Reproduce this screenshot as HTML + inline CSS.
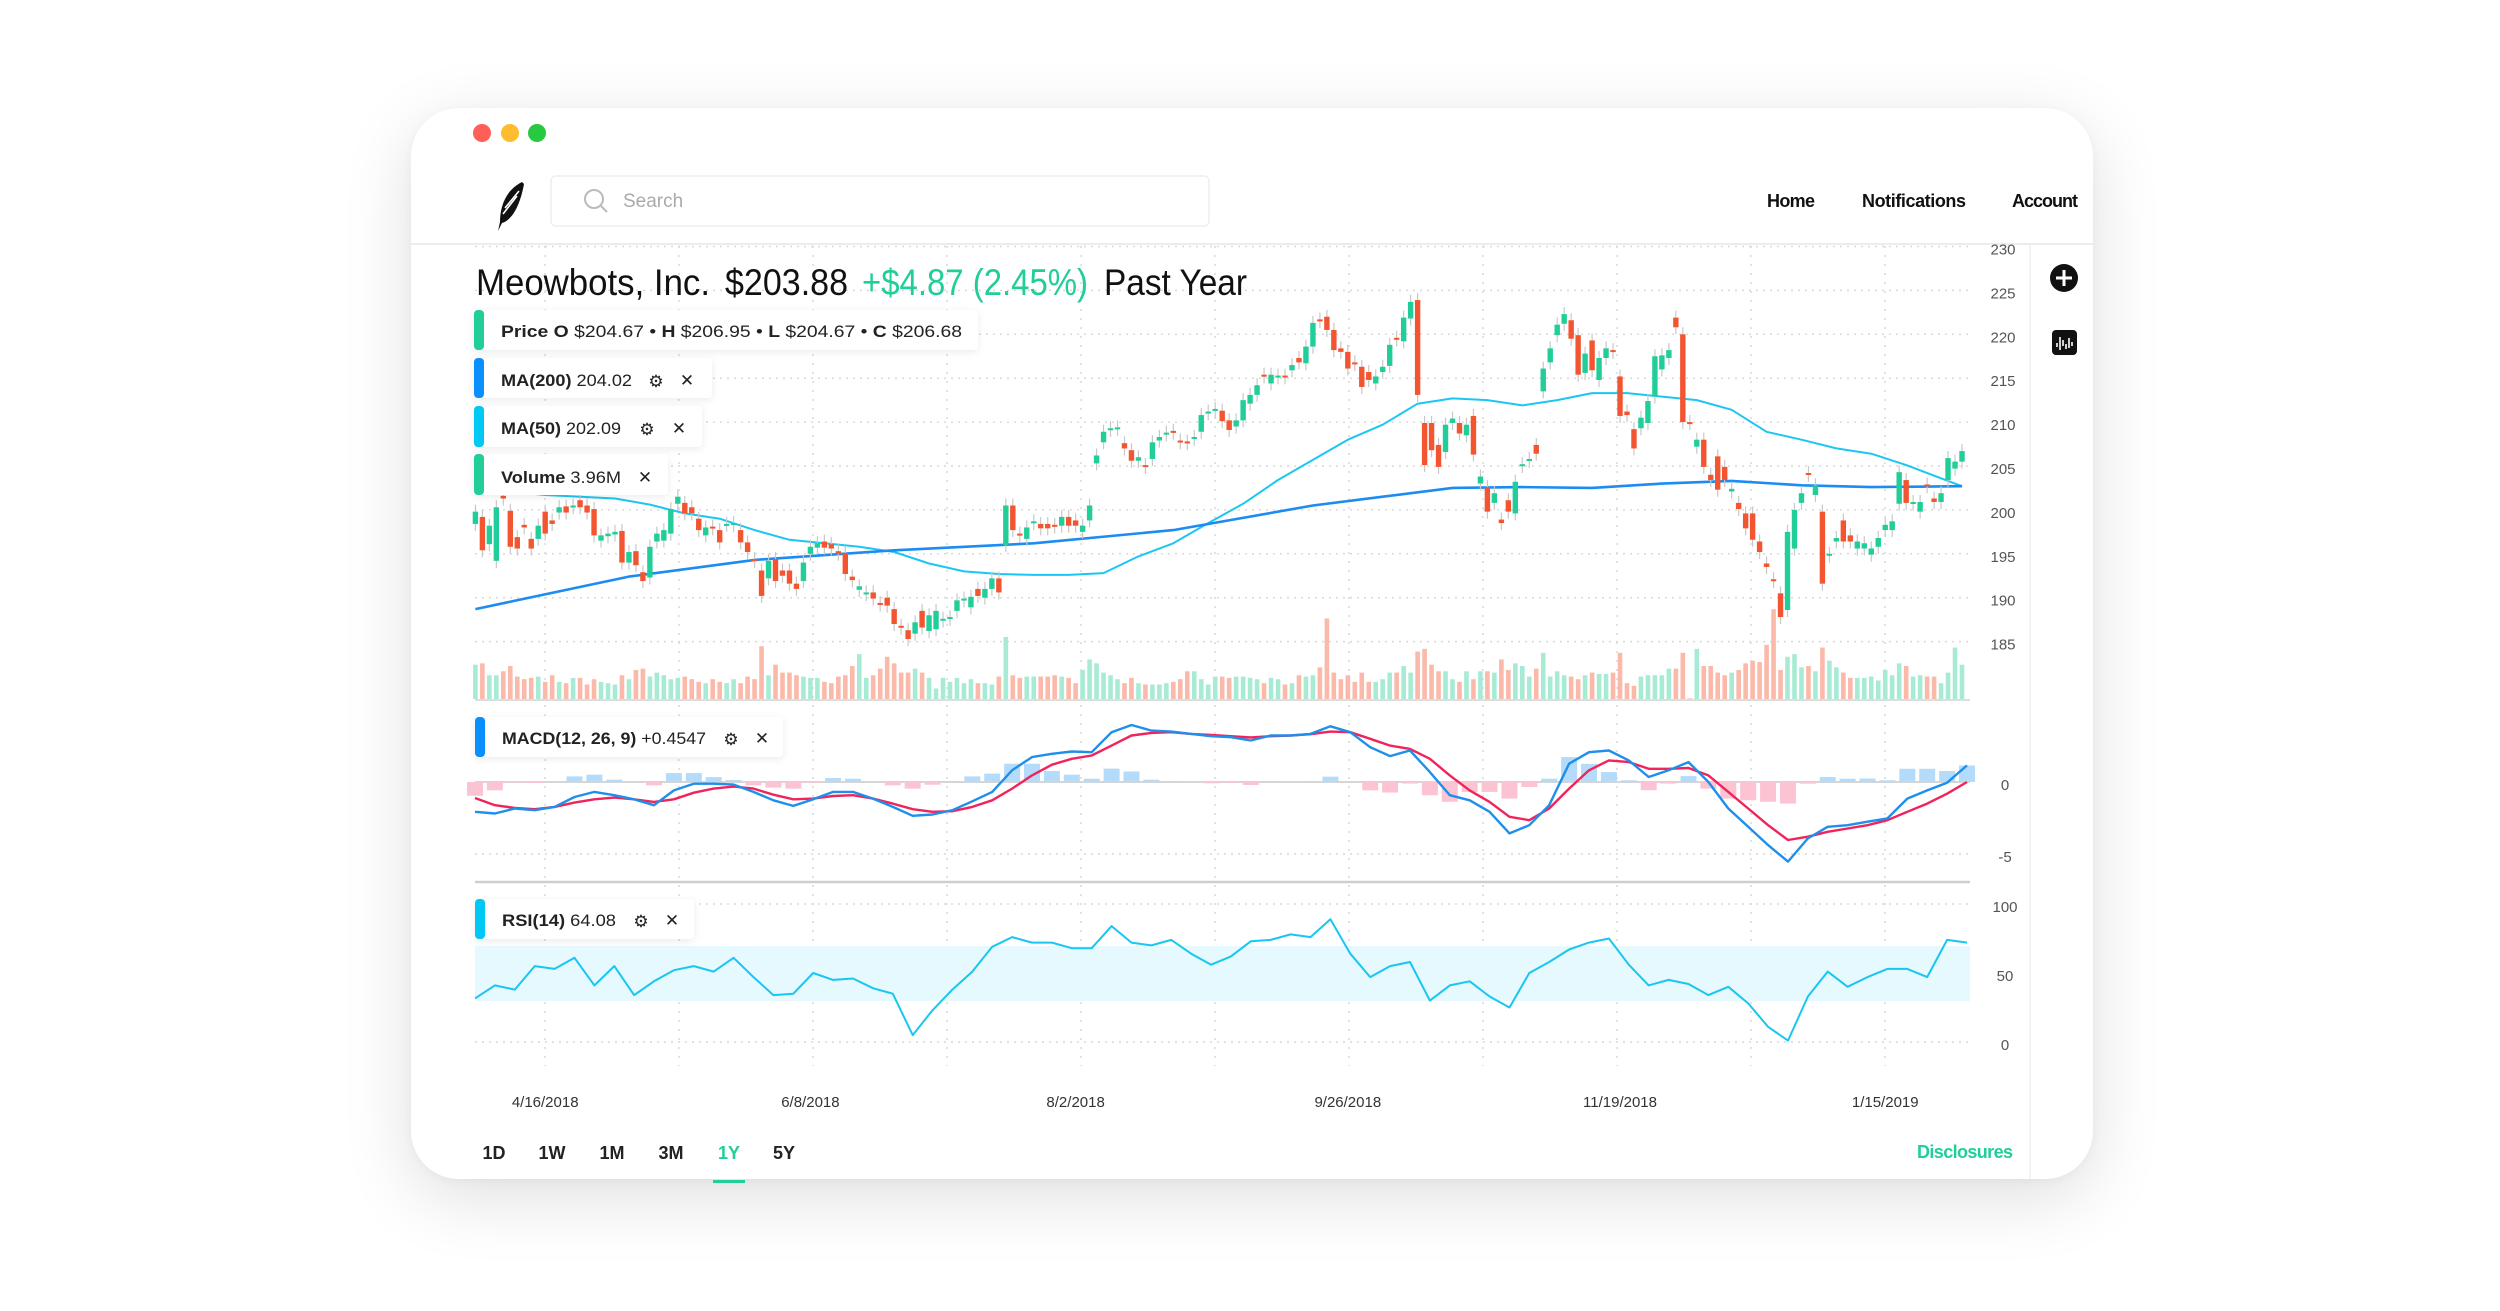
<!DOCTYPE html>
<html><head><meta charset="utf-8"><style>
html,body{margin:0;padding:0;background:#fff;width:2500px;height:1311px;overflow:hidden;font-family:"Liberation Sans",sans-serif}
#win{position:absolute;left:411px;top:108px;width:1682px;height:1071px;border-radius:48px;background:#fff;box-shadow:0 18px 70px rgba(0,0,0,0.13),0 2px 10px rgba(0,0,0,0.04)}
svg{position:absolute;left:0;top:0}
</style></head><body>
<div id="win"></div>
<svg id="s" width="2500" height="1311" viewBox="0 0 2500 1311" xmlns="http://www.w3.org/2000/svg" font-family="Liberation Sans, sans-serif">
<defs>
<filter id="sh" x="-10%" y="-30%" width="120%" height="160%"><feDropShadow dx="0" dy="2" stdDeviation="4" flood-color="#000" flood-opacity="0.08"/></filter>
</defs>
<g>
<circle cx="482" cy="133" r="9" fill="#FF5F57"/>
<circle cx="510" cy="133" r="9" fill="#FEBC2E"/>
<circle cx="537" cy="133" r="9" fill="#28C840"/>
</g>
<g>
<path d="M522 182 C506 190 500 206 500 222 L498 231 L502 223 C512 220 520 206 524 184 Z" fill="#111"/>
<path d="M503 214 L517 196 M505 208 L519 191" stroke="#fff" stroke-width="1.6"/>
</g>
<rect x="551" y="176" width="658" height="50" rx="5" fill="#fff" stroke="#eee" stroke-width="1.5"/>
<g><circle cx="594" cy="199" r="9" fill="none" stroke="#bbb" stroke-width="2"/><line x1="601" y1="206" x2="607" y2="212" stroke="#bbb" stroke-width="2"/></g>
<text x="623" y="207" font-size="19" fill="#aaa">Search</text>
<text x="1791" y="207" font-size="18" font-weight="bold" fill="#111" text-anchor="middle" textLength="48">Home</text>
<text x="1914" y="207" font-size="18" font-weight="bold" fill="#111" text-anchor="middle" textLength="104">Notifications</text>
<text x="2045" y="207" font-size="18" font-weight="bold" fill="#111" text-anchor="middle" textLength="66">Account</text>
<line x1="411" y1="244" x2="2093" y2="244" stroke="#ececec" stroke-width="2"/>
<line x1="2030" y1="245" x2="2030" y2="1179" stroke="#f0f0f0" stroke-width="1.5"/>
<g id="grid"></g>
<rect x="475" y="946" width="1495" height="55" fill="#E5F9FE"/>
<g id="marks"></g>
<g>
<text x="476" y="295" font-size="37" fill="#111" textLength="234" lengthAdjust="spacingAndGlyphs">Meowbots, Inc.</text>
<text x="725" y="295" font-size="37" fill="#111" textLength="123" lengthAdjust="spacingAndGlyphs">$203.88</text>
<text x="862" y="295" font-size="37" fill="#21CE99" textLength="226" lengthAdjust="spacingAndGlyphs">+$4.87 (2.45%)</text>
<text x="1104" y="295" font-size="37" fill="#111" textLength="143" lengthAdjust="spacingAndGlyphs">Past Year</text>
</g>
<g>
<rect x="474" y="310" width="504" height="40" rx="4" fill="#fff" filter="url(#sh)"/><rect x="474" y="310" width="10" height="40" rx="4" fill="#21CE99"/>
<text x="501" y="337" font-size="17" fill="#222" textLength="461" lengthAdjust="spacingAndGlyphs"><tspan font-weight="bold">Price</tspan>  <tspan font-weight="bold">O</tspan> $204.67  •  <tspan font-weight="bold">H</tspan> $206.95  •  <tspan font-weight="bold">L</tspan> $204.67  •  <tspan font-weight="bold">C</tspan> $206.68</text>
</g>
<g>
<rect x="474" y="358" width="238" height="40" rx="4" fill="#fff" filter="url(#sh)"/><rect x="474" y="358" width="10" height="40" rx="4" fill="#0A8FFF"/>
<text x="501" y="386" font-size="17" fill="#222" textLength="131" lengthAdjust="spacingAndGlyphs"><tspan font-weight="bold">MA(200)</tspan> 204.02</text>
<text x="656" y="387" font-size="17" fill="#222" text-anchor="middle">⚙</text>
<text x="687" y="386" font-size="17" fill="#222" text-anchor="middle">✕</text>
</g>
<g>
<rect x="474" y="406" width="228" height="41" rx="4" fill="#fff" filter="url(#sh)"/><rect x="474" y="406" width="10" height="41" rx="4" fill="#00C8F5"/>
<text x="501" y="434" font-size="17" fill="#222" textLength="120" lengthAdjust="spacingAndGlyphs"><tspan font-weight="bold">MA(50)</tspan> 202.09</text>
<text x="647" y="435" font-size="17" fill="#222" text-anchor="middle">⚙</text>
<text x="679" y="434" font-size="17" fill="#222" text-anchor="middle">✕</text>
</g>
<g>
<rect x="474" y="454" width="194" height="41" rx="4" fill="#fff" filter="url(#sh)"/><rect x="474" y="454" width="10" height="41" rx="4" fill="#21CE99"/>
<text x="501" y="483" font-size="17" fill="#222" textLength="120" lengthAdjust="spacingAndGlyphs"><tspan font-weight="bold">Volume</tspan> 3.96M</text>
<text x="645" y="483" font-size="17" fill="#222" text-anchor="middle">✕</text>
</g>
<g>
<rect x="475" y="717" width="308" height="40" rx="4" fill="#fff" filter="url(#sh)"/><rect x="475" y="717" width="10" height="40" rx="4" fill="#0A8FFF"/>
<text x="502" y="744" font-size="17" fill="#222" textLength="204" lengthAdjust="spacingAndGlyphs"><tspan font-weight="bold">MACD(12, 26, 9)</tspan> +0.4547</text>
<text x="731" y="745" font-size="17" fill="#222" text-anchor="middle">⚙</text>
<text x="762" y="744" font-size="17" fill="#222" text-anchor="middle">✕</text>
</g>
<g>
<rect x="475" y="899" width="219" height="40" rx="4" fill="#fff" filter="url(#sh)"/><rect x="475" y="899" width="10" height="40" rx="4" fill="#00C8F5"/>
<text x="502" y="926" font-size="17" fill="#222" textLength="114" lengthAdjust="spacingAndGlyphs"><tspan font-weight="bold">RSI(14)</tspan> 64.08</text>
<text x="641" y="927" font-size="17" fill="#222" text-anchor="middle">⚙</text>
<text x="672" y="926" font-size="17" fill="#222" text-anchor="middle">✕</text>
</g>
<g><circle cx="2064" cy="278" r="14" fill="#111"/><path d="M2064 270 V286 M2056 278 H2072" stroke="#fff" stroke-width="3"/></g>
<g><rect x="2052" y="330" width="25" height="25" rx="4" fill="#111"/><path d="M2057 343 V347 M2060 337 V350 M2063 340 V346 M2066 344 V349 M2069 338 V348 M2072 342 V346" stroke="#fff" stroke-width="1.6"/></g>
<g id="xlabels"></g>
<g font-size="18" font-weight="bold" fill="#222" text-anchor="middle">
<text x="494" y="1159">1D</text>
<text x="552" y="1159">1W</text>
<text x="612" y="1159">1M</text>
<text x="671" y="1159">3M</text>
<text x="729" y="1159" fill="#21CE99">1Y</text>
<text x="784" y="1159">5Y</text>
<rect x="713" y="1180" width="32" height="3" fill="#21CE99"/>
</g>
<text x="2013" y="1158" font-size="18" font-weight="bold" fill="#21CE99" text-anchor="end" textLength="96">Disclosures</text>
</svg>
<script>
// ---- data ----
const opens = [
198.4,199.2,196.1,194.2,201.6,199.9,196.9,198.3,196.7,196.7,
199.8,198.8,199.7,200.4,200.3,201.1,200.5,200.1,196.5,197.0,
197.2,197.6,194.0,195.3,192.9,192.3,196.4,196.5,197.3,200.7,
200.8,200.3,199.0,197.1,198.1,197.7,198.3,198.3,197.7,196.3,
194.4,193.1,192.2,194.4,193.1,193.1,191.6,191.9,195.0,195.7,
196.4,196.1,195.3,195.1,192.4,190.9,190.4,190.6,189.4,190.0,
188.7,186.8,186.3,185.9,188.5,186.2,186.4,187.4,187.6,188.5,
189.7,188.9,191.0,190.0,191.0,192.2,196.0,200.5,197.3,196.7,
198.5,198.4,198.4,198.3,198.2,199.2,198.8,197.5,198.8,205.3,
207.7,209.1,209.2,207.6,206.8,205.6,205.1,205.8,207.9,208.6,
209.0,207.9,207.8,208.1,208.9,211.0,211.3,211.3,210.2,209.5,
210.2,212.1,213.1,215.4,214.4,215.1,215.3,215.9,217.3,216.7,
218.6,221.7,222.0,220.5,218.4,218.0,216.8,216.3,215.7,214.4,
215.7,216.4,219.6,219.2,221.8,223.9,209.9,209.9,207.4,206.6,
209.9,209.9,208.5,210.7,203.0,202.6,200.8,198.9,201.1,199.6,
205.0,205.6,207.4,213.5,216.8,219.9,221.2,221.6,219.9,215.6,
219.3,214.8,217.3,218.2,215.2,211.2,209.2,209.3,209.9,212.9,
216.0,217.3,221.9,220.0,210.0,207.2,208.0,204.0,206.1,204.9,
202.1,200.8,199.6,199.6,196.4,193.9,192.1,190.5,188.6,195.6,
200.8,204.2,201.7,199.8,194.8,196.4,198.8,197.1,195.6,195.6,
194.9,195.8,197.7,197.7,200.7,203.4,200.7,199.8,202.9,201.3,
200.9,203.4,204.7,205.5];
const closes = [
199.8,195.4,198.2,200.3,201.3,195.8,195.6,198.0,195.6,198.2,
197.3,198.4,200.3,199.7,200.5,200.3,199.7,197.1,197.1,197.3,
197.5,194.0,195.2,193.7,191.9,195.8,197.3,197.7,200.1,201.5,
199.6,199.6,197.7,198.0,197.9,196.3,198.4,198.5,196.3,195.2,
194.2,190.2,194.2,191.9,192.5,191.6,191.0,194.0,195.8,196.2,
195.7,195.6,195.0,192.7,192.0,191.3,190.6,189.9,189.2,189.1,
187.0,186.6,185.3,187.2,186.6,188.0,188.5,187.6,187.8,189.7,
189.9,190.1,190.2,191.0,192.2,190.6,200.5,197.7,197.1,198.0,
198.7,197.9,197.9,198.1,199.2,198.2,198.2,198.2,200.5,206.2,
208.9,209.3,209.4,207.0,205.6,206.0,204.9,207.7,208.3,208.8,
208.8,207.7,207.6,208.3,210.8,211.2,211.5,210.1,209.1,210.2,
212.5,213.1,214.2,215.2,215.4,215.3,215.1,216.5,216.8,218.6,
221.3,221.5,220.5,218.2,218.0,216.1,216.6,214.0,214.8,215.2,
216.3,218.8,219.4,221.9,223.7,213.1,205.1,206.8,204.9,209.7,
210.4,208.7,209.7,206.3,203.8,199.8,201.9,198.5,199.8,203.2,
205.2,205.8,206.4,216.1,218.4,221.1,222.3,219.5,215.4,217.8,
215.9,217.3,218.4,218.0,210.7,210.8,207.0,210.5,212.4,217.5,
217.6,218.2,220.8,210.0,209.9,208.0,204.9,203.4,202.3,203.4,
202.4,200.1,197.9,196.6,195.2,193.5,191.9,187.8,197.5,200.0,
201.9,204.0,202.8,191.6,195.0,196.8,196.4,196.4,196.4,196.2,
195.6,196.8,198.3,198.7,204.3,200.8,200.9,200.9,202.7,200.9,
201.9,205.9,205.5,206.7];
const volumes = [
2.6,2.7,1.8,1.8,2.1,2.5,1.7,1.5,1.6,1.7,
1.3,1.8,1.3,1.2,1.6,1.6,1.1,1.5,1.3,1.2,
1.1,1.8,1.5,2.2,2.3,1.7,2.0,1.8,1.5,1.6,
1.7,1.5,1.3,1.2,1.5,1.3,1.2,1.5,1.2,1.7,
1.5,4.0,1.8,2.6,2.0,2.0,1.8,1.7,1.6,1.6,
1.3,1.2,1.7,1.8,2.5,3.4,1.6,1.8,2.3,3.2,
2.7,2.0,2.0,2.3,2.0,1.6,0.8,1.6,1.3,1.6,
1.2,1.5,1.2,1.2,1.1,1.7,4.7,1.8,1.6,1.7,
1.7,1.7,1.7,1.8,1.7,1.6,1.2,2.2,3.0,2.7,
2.0,1.8,1.5,1.2,1.6,1.2,1.1,1.1,1.1,1.2,
1.3,1.5,2.1,2.1,1.5,1.1,1.7,1.7,1.6,1.7,
1.7,1.6,1.5,1.2,1.6,1.5,1.1,1.2,1.8,1.7,
1.8,2.4,6.1,2.0,1.5,1.8,1.3,2.0,1.3,1.3,
1.5,2.0,2.0,2.5,2.0,3.6,3.8,2.6,2.1,2.1,
1.5,1.3,2.1,1.5,2.1,2.1,2.0,3.0,2.2,2.7,
2.5,1.7,2.3,3.5,1.7,2.1,1.8,1.7,1.5,1.8,
2.0,1.9,1.9,2.0,3.5,1.2,1.0,1.7,1.8,1.8,
1.8,2.3,2.3,3.5,0.05,3.8,2.5,2.5,2.0,1.8,
2.0,2.2,2.7,2.9,2.8,4.1,6.8,2.2,3.2,3.4,
2.4,2.5,2.1,3.9,2.9,2.4,2.0,1.6,1.6,1.6,
1.7,1.4,2.2,1.8,2.7,2.5,1.7,1.8,1.7,1.7,
1.2,2.0,3.9,2.6];
const ma200Idx = [0,22,40,60,80,100,120,130,140,150,160,170,180,190,200,213];
const ma200Vals = [188.7,192.4,194.3,195.4,196.2,197.7,200.5,201.5,202.5,202.6,202.5,203.0,203.3,202.8,202.6,202.7];
const ma50Idx = [0,5,10,15,20,25,30,35,40,45,50,55,60,65,70,75,80,85,90,95,100,105,110,115,120,125,130,135,140,145,150,155,160,165,170,175,180,185,190,195,200,205,210,213];
const ma50Vals = [202.6,202.1,201.7,201.5,201.3,200.6,199.6,199.0,197.7,196.6,196.2,195.8,195.2,193.9,193.0,192.7,192.6,192.6,192.8,194.7,196.2,198.5,200.7,203.4,205.7,208.0,209.7,212.1,212.7,212.5,211.9,212.5,213.3,213.3,212.9,212.5,211.4,208.9,208.0,207.0,206.4,205.1,203.6,202.7];
const macdVals = [-2.07,-2.19,-1.84,-1.96,-1.73,-1.04,-0.69,-0.92,-1.20,-1.61,-0.58,-0.12,-0.12,-0.18,-0.69,-1.27,-1.66,-1.20,-0.69,-0.69,-1.15,-1.73,-2.35,-2.26,-1.96,-1.34,-0.69,0.81,1.73,1.96,2.12,2.07,3.46,3.96,3.57,3.50,3.34,3.18,3.11,2.88,3.23,3.23,3.34,3.87,3.46,2.42,1.80,2.19,0.69,-0.92,-1.27,-2.07,-3.57,-3.00,-1.61,1.27,2.07,2.19,1.50,0.35,0.81,1.38,0.00,-1.84,-3.11,-4.38,-5.53,-3.92,-3.11,-3.00,-2.76,-2.53,-1.15,-0.58,-0.05,1.15];
const signalVals = [-1.11,-1.61,-1.80,-1.89,-1.73,-1.43,-1.20,-1.08,-1.20,-1.38,-1.20,-0.74,-0.46,-0.32,-0.46,-0.88,-1.20,-1.15,-0.97,-0.92,-1.15,-1.50,-1.89,-2.07,-2.03,-1.73,-1.27,-0.46,0.46,1.20,1.61,1.84,2.53,3.23,3.41,3.46,3.34,3.27,3.18,3.09,3.18,3.23,3.32,3.50,3.46,3.00,2.53,2.30,1.61,0.46,-0.58,-1.38,-2.42,-2.65,-1.84,-0.46,0.81,1.50,1.38,0.92,0.92,0.97,0.46,-0.69,-1.84,-3.00,-4.03,-3.80,-3.46,-3.23,-3.00,-2.65,-2.07,-1.50,-0.81,0.00];
const rsiVals = [31.6,41,38,55,53,61,41,55,34,44,52,55,51,61,47,34,35,50,45,46,39,35,5,23,38,51,69,76,72,72,68,68,84,72,70,74,64,56,62,73,74,78,76,89,64,47,55,58,30,41,44,33,25,50,58,67,72,75,56,41,45,42,34,40,28,11,1,33,51,40,47,53,53,47,74,72];
const priceTicks = [230,225,220,215,210,205,200,195,190,185];
const macdTicks = [0,-5];
const rsiTicks = [100,50,0];
const dateLabels = ['4/16/2018','6/8/2018','8/2/2018','9/26/2018','11/19/2018','1/15/2019'];
const dateBarIdx = [10,48,86,125,164,202];

// ---- axes ----
const X0=475.4, X1=1962, N=closes.length;
const xBar = i => X0 + i*(X1-X0)/(N-1);
const yPrice = v => 246.5 + (230-v)*8.78;
const yVol = v => 699 - v*13.2;
const yMacd = v => 782 - v*14.4;
const yRsi = v => 1042 - v*1.38;
const xInd = (k,n) => 475 + k*(1967-475)/(n-1);
const NS='http://www.w3.org/2000/svg';
const grid=document.getElementById('grid'), marks=document.getElementById('marks'), xl=document.getElementById('xlabels');
function mk(tag, parent, attrs){const e=document.createElementNS(NS,tag);for(const k in attrs)e.setAttribute(k,attrs[k]);parent.appendChild(e);return e;}

// grid
for(let k=0;k<11;k++){const gx=545+134*k;
 const l=mk('line',grid,{x1:gx,y1:246,x2:gx,y2:1066,stroke:'#d9d9d9','stroke-width':1.5,'stroke-dasharray':'2 7'});
 
 }
priceTicks.forEach(t=>{const y=yPrice(t);
 const l=mk('line',grid,{x1:475,y1:y,x2:1970,y2:y,stroke:'#d9d9d9','stroke-width':1.5,'stroke-dasharray':'2 5'});
 
 
 const t2=mk('text',grid,{x:2003,y:y+8,'font-size':15,fill:'#555','text-anchor':'middle'});t2.textContent=t;
 
 });
macdTicks.forEach(t=>{const y=yMacd(t);
 const l=mk('line',grid,{x1:475,y1:y,x2:1970,y2:y,stroke:t===0?'#d6d6d6':'#d9d9d9','stroke-width':t===0?2:1.5,'stroke-dasharray':t===0?'':'2 5'});
 
 
 const t2=mk('text',grid,{x:2005,y:y+8,'font-size':15,fill:'#555','text-anchor':'middle'});t2.textContent=t;
 
 });
rsiTicks.forEach(t=>{const y=yRsi(t);
 const l=mk('line',grid,{x1:475,y1:y,x2:1970,y2:y,stroke:'#d9d9d9','stroke-width':1.5,'stroke-dasharray':'2 5'});
 
 
 const t2=mk('text',grid,{x:2005,y:y+8,'font-size':15,fill:'#555','text-anchor':'middle'});t2.textContent=t;
 
 });
const sep=mk('line',grid,{x1:475,y1:882,x2:1970,y2:882,stroke:'#cfcfcf','stroke-width':2.5});


const vb=mk('line',grid,{x1:475,y1:700,x2:1970,y2:700,stroke:'#ddd','stroke-width':2});



// volume
for(let i=0;i<N;i++){const up=closes[i]>=opens[i];const y=yVol(volumes[i]);
 const r=mk('rect',marks,{x:xBar(i)-2.3,y:y,width:4.6,height:699-y,fill:up?'#A8EBD5':'#FBB9AA'});
 
 }
// MA lines
function line(idx,vals,xf,yf,color,w){let d='';vals.forEach((v,k)=>{d+=(k?'L':'M')+xf(idx?idx[k]:k).toFixed(1)+' '+yf(v).toFixed(1);});
 return mk('path',marks,{d:d,fill:'none',stroke:color,'stroke-width':w,'stroke-linejoin':'round'});}
const m50=line(ma50Idx,ma50Vals,xBar,yPrice,'#1CC6F2',2);


const m200=line(ma200Idx,ma200Vals,xBar,yPrice,'#1C8CF2',2.6);


// candles
for(let i=0;i<N;i++){const o=opens[i],c=closes[i],up=c>=o,col=up?'#21CE99':'#F45531',x=xBar(i);
 const hi=Math.max(o,c),lo=Math.min(o,c);
 const w=mk('line',marks,{x1:x,y1:yPrice(hi+0.8),x2:x,y2:yPrice(lo-0.8),stroke:'#c8c8c8','stroke-width':1.2});
 
 
 const yt=yPrice(hi),yb=yPrice(lo);
 const b=mk('rect',marks,{x:x-2.7,y:yt,width:5.4,height:Math.max(2,yb-yt),fill:col});
 
 }
// MACD histogram
const nI=macdVals.length;
for(let k=0;k<nI;k++){const h=macdVals[k]-signalVals[k];const y0=yMacd(0),y1=yMacd(h);
 const r=mk('rect',marks,{x:xInd(k,nI)-8,y:Math.min(y0,y1),width:16,height:Math.abs(y1-y0),fill:h>=0?'#B5DBFA':'#FCC4D3'});
 
 }
const sg=line(null,signalVals,k=>xInd(k,nI),yMacd,'#F0245A',2.4);


const mc=line(null,macdVals,k=>xInd(k,nI),yMacd,'#1E8FEA',2.4);


const rs=line(null,rsiVals,k=>xInd(k,rsiVals.length),yRsi,'#19C6F0',2);


// x labels
dateLabels.forEach((d,k)=>{const t=mk('text',xl,{x:xBar(dateBarIdx[k]),y:1107,'font-size':15,fill:'#333','text-anchor':'middle'});t.textContent=d;
 
 });
</script>
</body></html>
